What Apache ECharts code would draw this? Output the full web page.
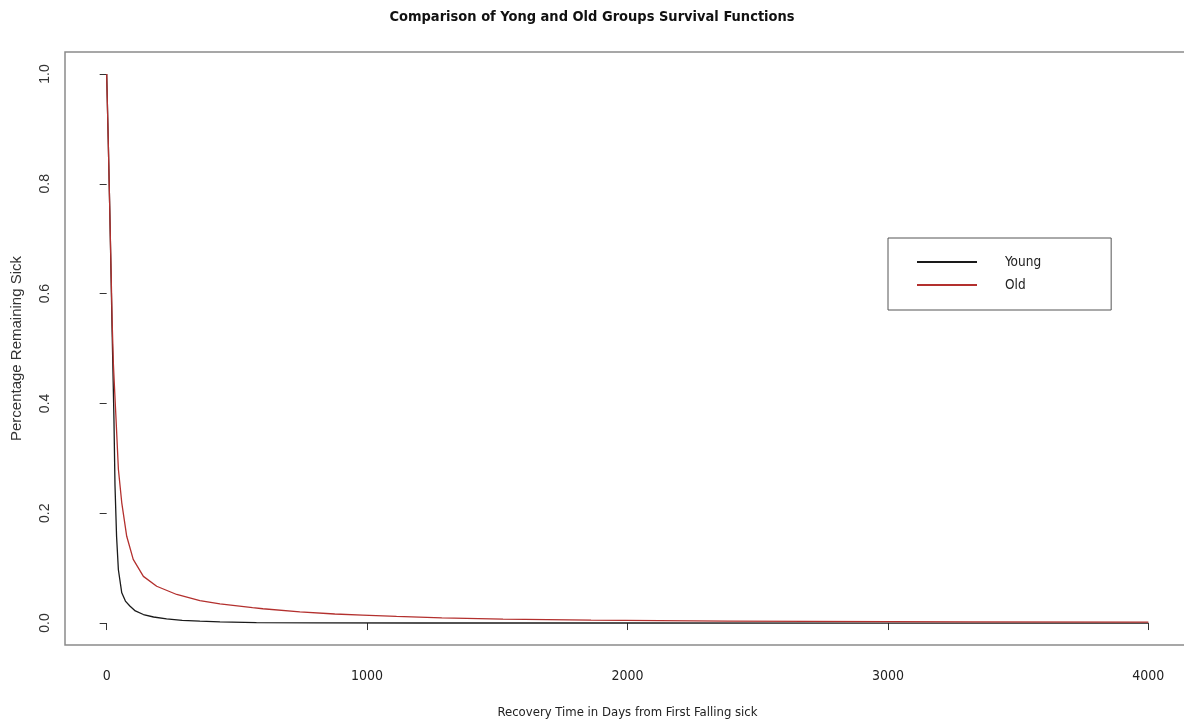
<!DOCTYPE html>
<html>
<head>
<meta charset="utf-8">
<script src="https://cdn.jsdelivr.net/npm/echarts@6/dist/echarts.min.js"></script>
<style>html,body{margin:0;padding:0;background:#fff}#c{width:1184px;height:724px}</style>
</head>
<body>
<div id="c"></div>
<script>
// Recovery time (days) and survival proportion
var youngDays = [0, 6, 12, 17, 21, 25, 28, 32, 38, 45, 58, 72, 89, 110, 141, 180, 230, 290, 358, 435, 575, 800, 1200, 2000, 3000, 4000];
var youngSurv = [1.0, 0.88, 0.75, 0.63, 0.53, 0.44, 0.37, 0.25, 0.158, 0.097, 0.055, 0.04, 0.031, 0.022, 0.0155, 0.011, 0.0076, 0.005, 0.0033, 0.002, 0.0008, 0.0003, 0.0001, 0.00005, 0.0, 0.0];
var oldDays = [0, 6, 12, 17, 21, 26, 31, 36, 45, 58, 77, 102, 141, 192, 269, 358, 435, 560, 600, 742, 876, 982, 1113, 1287, 1522, 1860, 2385, 3311, 4000];
var oldSurv = [1.0, 0.88, 0.75, 0.64, 0.55, 0.47, 0.42, 0.371, 0.28, 0.219, 0.158, 0.116, 0.085, 0.067, 0.052, 0.041, 0.035, 0.028, 0.026, 0.0205, 0.0165, 0.0145, 0.012, 0.0095, 0.0072, 0.0052, 0.0035, 0.002, 0.0015];
var xTicks = [0, 1000, 2000, 3000, 4000];
var yTicks = [0, 0.2, 0.4, 0.6, 0.8, 1.0];
var seriesNames = ['Young', 'Old'];

function pairs(xs, ys) { return xs.map(function (x, i) { return [x, ys[i]]; }); }

var narrow = "'Liberation Sans Narrow', 'DejaVu Sans Condensed', 'Liberation Sans', sans-serif";
var regular = "'Liberation Sans', Arial, sans-serif";

var chart = echarts.init(document.getElementById('c'), null, {renderer: 'canvas'});
chart.setOption({
  animation: false,
  backgroundColor: '#ffffff',
  title: {
    text: 'Comparison of Yong and Old Groups Survival Functions',
    left: 'center', top: 5,
    textStyle: {fontFamily: narrow, fontWeight: 'bold', fontSize: 14.5, color: '#111'}
  },
  legend: {
    orient: 'vertical',
    left: 888, top: 238,
    data: seriesNames,
    icon: 'rect',
    itemWidth: 60, itemHeight: 2, itemGap: 7,
    padding: [16, 70, 17, 29],
    borderColor: '#555', borderWidth: 1,
    backgroundColor: '#fff',
    textStyle: {fontFamily: narrow, fontSize: 13.5, color: '#222', padding: [0, 0, 0, 23], lineHeight: 16}
  },
  grid: {left: 65, top: 52, width: 1125, height: 593, containLabel: false, outerBoundsMode: 'none',
    show: true, borderColor: '#8a8a8a', borderWidth: 1.5, backgroundColor: 'transparent'},
  xAxis: {
    type: 'value', min: -160, max: 4160,
    name: 'Recovery Time in Days from First Falling sick',
    nameLocation: 'middle', nameGap: 61,
    nameTextStyle: {fontFamily: narrow, fontSize: 13, color: '#222'},
    axisLine: {show: false},
    axisTick: {show: true, length: 7, customValues: xTicks, lineStyle: {color: '#333'}},
    axisLabel: {customValues: xTicks, margin: 24, fontFamily: narrow, fontSize: 14, color: '#222',
      formatter: function (v) { return String(v); }},
    splitLine: {show: false}
  },
  yAxis: {
    type: 'value', min: -0.04, max: 1.04,
    name: 'Percentage Remaining Sick',
    nameLocation: 'middle', nameGap: 41,
    nameTextStyle: {fontFamily: regular, fontSize: 15, color: '#333'},
    axisLine: {show: false},
    axisTick: {show: true, length: 7, customValues: yTicks, lineStyle: {color: '#333'}},
    axisLabel: {customValues: yTicks, rotate: 90, margin: 13, fontFamily: regular, fontSize: 14, color: '#333',
      formatter: function (v) { return v.toFixed(1); }},
    splitLine: {show: false}
  },
  series: [
    {name: seriesNames[0], type: 'line', data: pairs(youngDays, youngSurv), symbol: 'none', smooth: false,
      lineStyle: {color: '#1a1a1a', width: 1.3}, itemStyle: {color: '#1a1a1a'}},
    {name: seriesNames[1], type: 'line', data: pairs(oldDays, oldSurv), symbol: 'none', smooth: false,
      lineStyle: {color: '#b3302e', width: 1.3}, itemStyle: {color: '#b3302e'}}
  ]
});
</script>
</body>
</html>
